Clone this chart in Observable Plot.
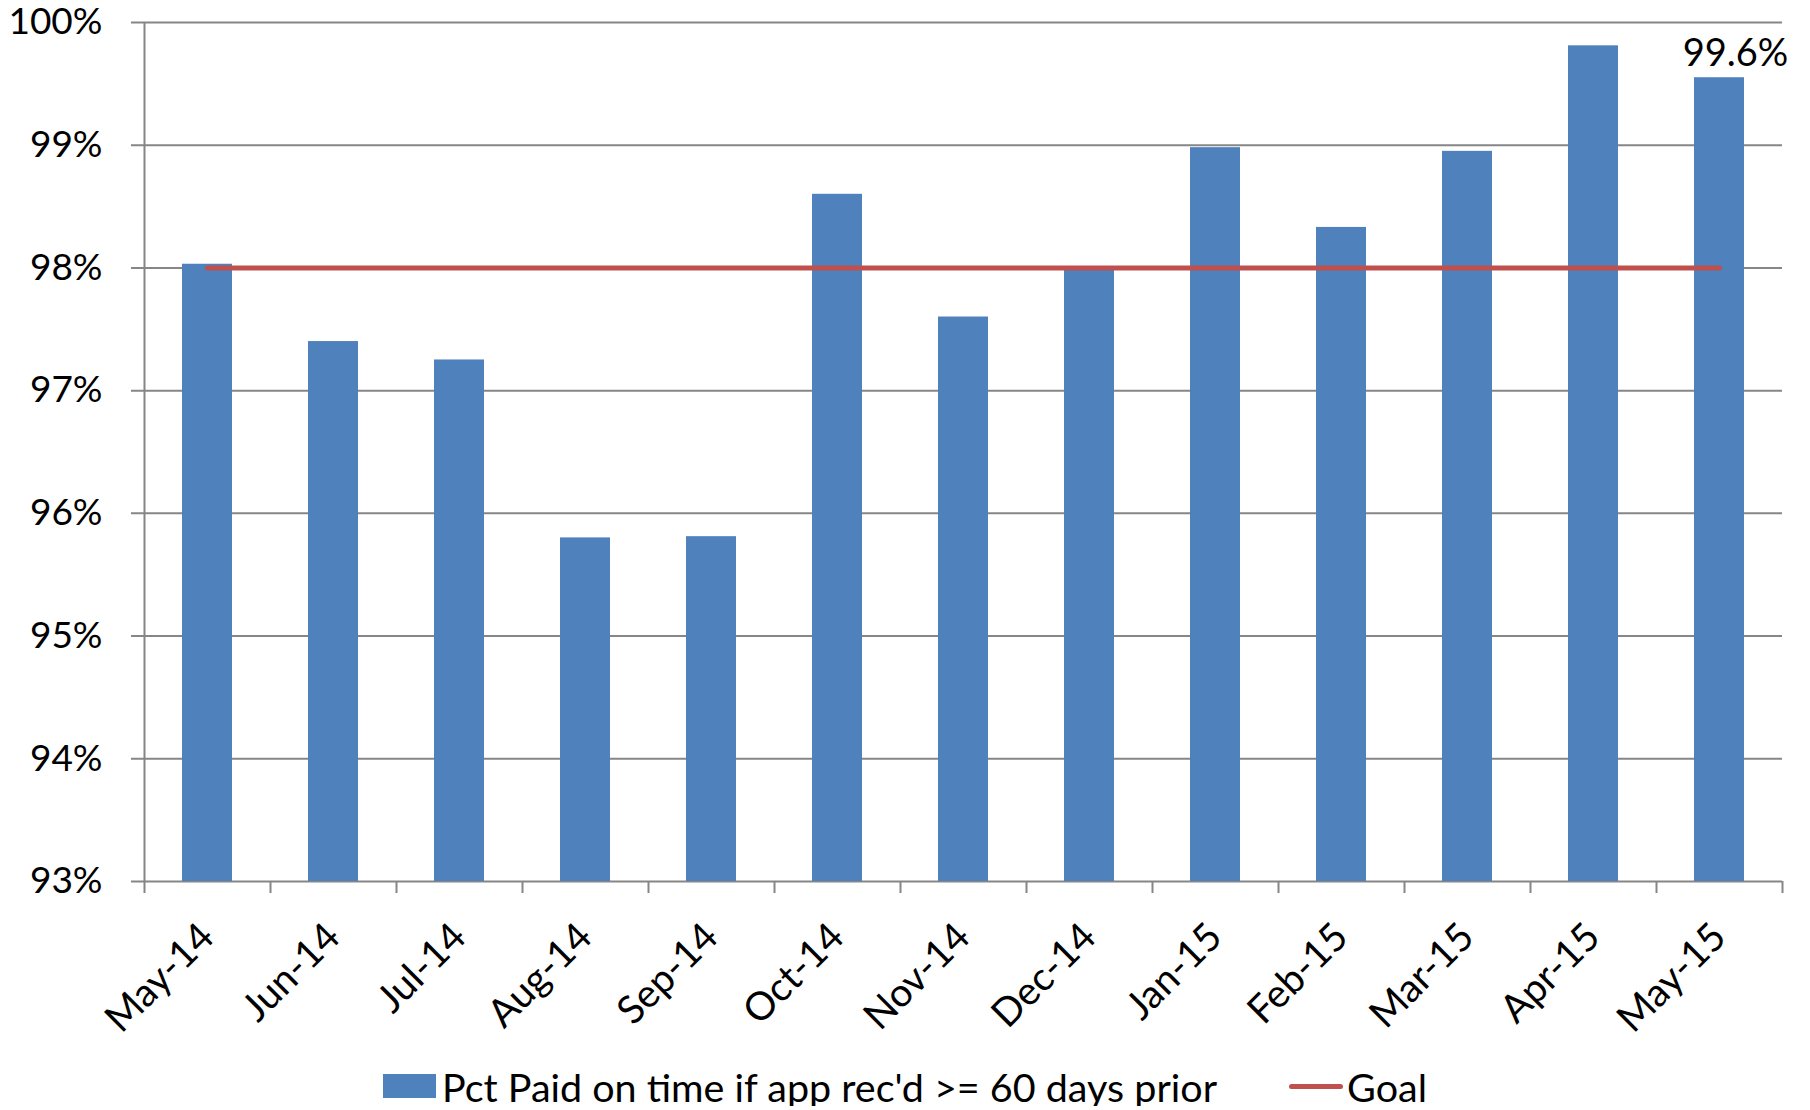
<!DOCTYPE html>
<html>
<head>
<meta charset="utf-8">
<script src="https://cdn.jsdelivr.net/npm/d3@7"></script>
<script src="https://cdn.jsdelivr.net/npm/@observablehq/plot@0.6"></script>
<style>
  html, body { margin: 0; padding: 0; background: #fff; overflow: hidden; }
  #chart svg { display: block; overflow: visible; }
  .legend {
    display: flex; justify-content: center; align-items: center;
    height: 40px; padding-top: 16px;
    font-family: Lato, "Open Sans", sans-serif; font-size: 39.5px; color: #000;
  }
  .legend .item { display: flex; align-items: center; }
  .legend .swatch-bar { width: 53px; height: 24px; background: #4F81BD; margin-right: 6px; }
  .legend .swatch-line { width: 54px; height: 5px; border-radius: 3px; background: #C0504D; margin-right: 4px; }
  .legend .gap { width: 72px; }
</style>
</head>
<body>
<div id="chart"></div>
<script>
// Monthly share of payments made on time when the application arrived 60+ days ahead
const months = ["May-14","Jun-14","Jul-14","Aug-14","Sep-14","Oct-14","Nov-14","Dec-14","Jan-15","Feb-15","Mar-15","Apr-15","May-15"];
const pctOnTime = [0.9803, 0.9740, 0.9725, 0.9580, 0.9581, 0.9860, 0.9760, 0.9801, 0.9898, 0.9833, 0.9895, 0.9981, 0.9955];
const goal = [0.98, 0.98, 0.98, 0.98, 0.98, 0.98, 0.98, 0.98, 0.98, 0.98, 0.98, 0.98, 0.98];
const yTicks = [0.93, 0.94, 0.95, 0.96, 0.97, 0.98, 0.99, 1.00];
const seriesName = "Pct Paid on time if app rec'd >= 60 days prior";
const goalName = "Goal";

const rows = months.map((m, i) => ({month: m, value: pctOnTime[i], goal: goal[i]}));
const lastRow = rows[rows.length - 1];

const W = 1810, H = 1050;
const mL = 144, mR = 28, mT = 22, mB = 169;
const step = (W - mL - mR) / months.length;
const font = "Lato, 'Open Sans', sans-serif";
const gridColor = "#868686";
const fmtPct = d3.format(".0%");
const fmtLabel = d3.format(".1%");

const chart = Plot.plot({
  width: W,
  height: H,
  marginLeft: mL,
  marginRight: mR,
  marginTop: mT,
  marginBottom: mB,
  style: {fontFamily: font, fontSize: "36px", color: "#000", background: "#fff", overflow: "visible"},
  // inner gap of 0.6 bands, half of that at each end: every category gets an equal slot
  x: {domain: months, paddingInner: 0.6, paddingOuter: 0.3, align: 0.5, label: null},
  y: {domain: [0.93, 1], label: null},
  marks: [
    // horizontal gridlines, poking out to the left as tick marks
    Plot.ruleY(yTicks, {y: d => d, stroke: gridColor, strokeWidth: 2, insetLeft: -13}),
    Plot.barY(rows, {x: "month", y1: 0.93, y2: "value", fill: "#4F81BD"}),
    // vertical axis line (extends below the baseline as the first category tick)
    Plot.ruleX([months[0]], {x: d => d, dx: -step / 2, y1: 1, y2: 0.93, insetBottom: -12, stroke: gridColor, strokeWidth: 2}),
    // category separator ticks under the baseline
    Plot.ruleX(months.slice(1), {x: d => d, dx: -step / 2, y1: 0.93, y2: 0.93, insetBottom: -12, stroke: gridColor, strokeWidth: 2}),
    Plot.ruleX([months[months.length - 1]], {x: d => d, dx: step / 2, y1: 0.93, y2: 0.93, insetBottom: -12, stroke: gridColor, strokeWidth: 2}),
    Plot.lineY(rows, {x: "month", y: "goal", stroke: "#C0504D", strokeWidth: 5, strokeLinecap: "round"}),
    Plot.text([lastRow], {x: "month", y: "value", text: d => fmtLabel(d.value), lineAnchor: "bottom", dy: -12, dx: 16, fontSize: 38, fill: "#000"}),
    Plot.axisY(yTicks, {tickSize: 0, tickPadding: 42, tickFormat: fmtPct, fontSize: 37, fill: "#000"}),
    Plot.axisX(months, {tickSize: 0, tickPadding: 49, tickRotate: -45, fontSize: 39, fill: "#000"})
  ]
});

document.getElementById("chart").appendChild(chart);

// legend row beneath the plot
const legend = document.createElement("div");
legend.className = "legend";
legend.innerHTML =
  `<div class="item"><div class="swatch-bar"></div><span></span></div>` +
  `<div class="gap"></div>` +
  `<div class="item"><div class="swatch-line"></div><span></span></div>`;
const spans = legend.querySelectorAll("span");
spans[0].textContent = seriesName;
spans[1].textContent = goalName;
document.body.appendChild(legend);
</script>
</body>
</html>
